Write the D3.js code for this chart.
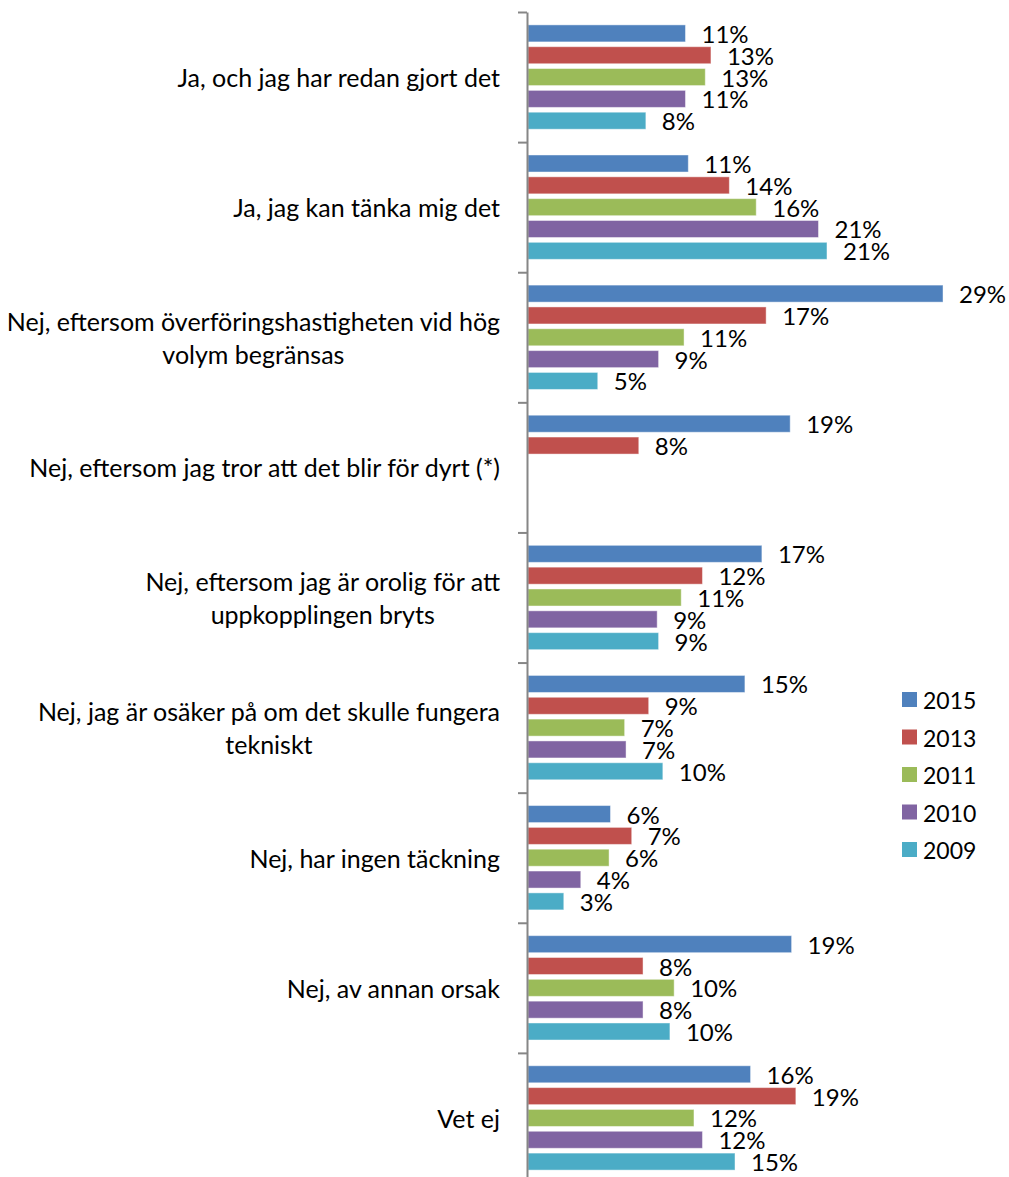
<!DOCTYPE html>
<html lang="sv">
<head>
<meta charset="UTF-8">
<title>Grouped bar chart</title>
<script src="https://d3js.org/d3.v7.min.js"></script>
<style>
body {
  margin: 0px;
  background: #fff;
}
text {
  font-family: Lato, "Open Sans", sans-serif;
  fill: #000;
}
.cat-label { font-size: 25px; }
.val-label { font-size: 24px; }
.legend text { font-size: 23px; }
.axis path, .axis line { stroke: #868686; stroke-width: 2px; }
</style>
</head>
<body>
<svg width="1009" height="1177"></svg>
<script>
// categories (line breaks as in the original labels)
const categories = [
  ["Ja, och jag har redan gjort det"],
  ["Ja, jag kan tänka mig det"],
  ["Nej, eftersom överföringshastigheten vid hög", "volym begränsas"],
  ["Nej, eftersom jag tror att det blir för dyrt (*)"],
  ["Nej, eftersom jag är orolig för att", "uppkopplingen bryts"],
  ["Nej, jag är osäker på om det skulle fungera", "tekniskt"],
  ["Nej, har ingen täckning"],
  ["Nej, av annan orsak"],
  ["Vet ej"]
];

const years = ["2015", "2013", "2011", "2010", "2009"];
const colors = ["#4F81BD", "#C0504D", "#9BBB59", "#8064A2", "#4BACC6"];

// percent values
const v2015 = [11.2, 11.4, 29.4, 18.6, 16.6, 15.4, 5.9, 18.7, 15.8];
const v2013 = [13.0, 14.3, 16.9, 7.9, 12.4, 8.6, 7.4, 8.2, 19.0];
const v2011 = [12.6, 16.2, 11.1, null, 10.9, 6.9, 5.8, 10.4, 11.8];
const v2010 = [11.2, 20.6, 9.3, null, 9.2, 7.0, 3.8, 8.2, 12.4];
const v2009 = [8.4, 21.2, 5.0, null, 9.3, 9.6, 2.6, 10.1, 14.7];

const seriesValues = [v2015, v2013, v2011, v2010, v2009];

const svg = d3.select('svg');

const axisX = 527;
const plotTop = 12, plotBottom = 1183;

const yCat = d3.scaleBand()
  .domain(d3.range(categories.length))
  .range([plotTop, plotBottom]);

const ySer = d3.scaleBand()
  .domain(years)
  .range([0, yCat.bandwidth()])
  .paddingInner(0.22)
  .paddingOuter(0.59);

const x = d3.scaleLinear()
  .domain([0, 30])
  .range([axisX, axisX + 14.15 * 30]);

// bars
const rows = [];
categories.forEach((c, i) => {
  years.forEach((yr, j) => {
    const v = seriesValues[j][i];
    if (v != null) rows.push({ cat: i, year: yr, color: colors[j], value: v });
  });
});

const bars = svg.append('g');
bars.selectAll('rect').data(rows).enter().append('rect')
  .attr('x', x(0) + 1)
  .attr('y', d => yCat(d.cat) + ySer(d.year))
  .attr('width', d => x(d.value) - x(0) - 1)
  .attr('height', ySer.bandwidth())
  .attr('fill', d => d.color)
  .attr('stroke', 'rgba(255,255,255,0.45)')
  .attr('stroke-width', 1);

// value labels
svg.append('g').selectAll('text').data(rows).enter().append('text')
  .attr('class', 'val-label')
  .attr('x', d => x(d.value) + 16)
  .attr('y', d => yCat(d.cat) + ySer(d.year) + ySer.bandwidth() / 2)
  .attr('dominant-baseline', 'central')
  .text(d => Math.round(d.value) + '%');

// axis with ticks at category boundaries
const yEdge = d3.scaleLinear()
  .domain([0, categories.length])
  .range([plotTop, plotBottom]);

svg.append('g')
  .attr('class', 'axis')
  .attr('transform', `translate(${axisX},0)`)
  .call(d3.axisLeft(yEdge)
    .tickValues(d3.range(categories.length + 1))
    .tickSize(9)
    .tickSizeOuter(0)
    .tickFormat(''));

// category labels
const lineH = 33;
const catG = svg.append('g');
categories.forEach((lines, i) => {
  const cy = yCat(i) + yCat.bandwidth() / 2;
  const t = catG.append('text')
    .attr('class', 'cat-label')
    .attr('text-anchor', 'middle');
  lines.forEach((ln, k) => {
    t.append('tspan')
      .attr('x', 0)
      .attr('y', cy + (k - (lines.length - 1) / 2) * lineH)
      .attr('dominant-baseline', 'central')
      .text(ln);
  });
  // centre lines over the block, block right edge at 500
  const w = t.node().getBBox().width;
  t.selectAll('tspan').attr('x', 500 - w / 2);
});

// legend
const legend = svg.append('g').attr('class', 'legend');
years.forEach((yr, j) => {
  const cy = 700 + j * 37.5;
  legend.append('rect')
    .attr('x', 902).attr('y', cy - 8)
    .attr('width', 15).attr('height', 15)
    .attr('fill', colors[j]);
  legend.append('text')
    .attr('x', 923).attr('y', cy)
    .attr('dominant-baseline', 'central')
    .text(yr);
});
</script>
</body>
</html>
